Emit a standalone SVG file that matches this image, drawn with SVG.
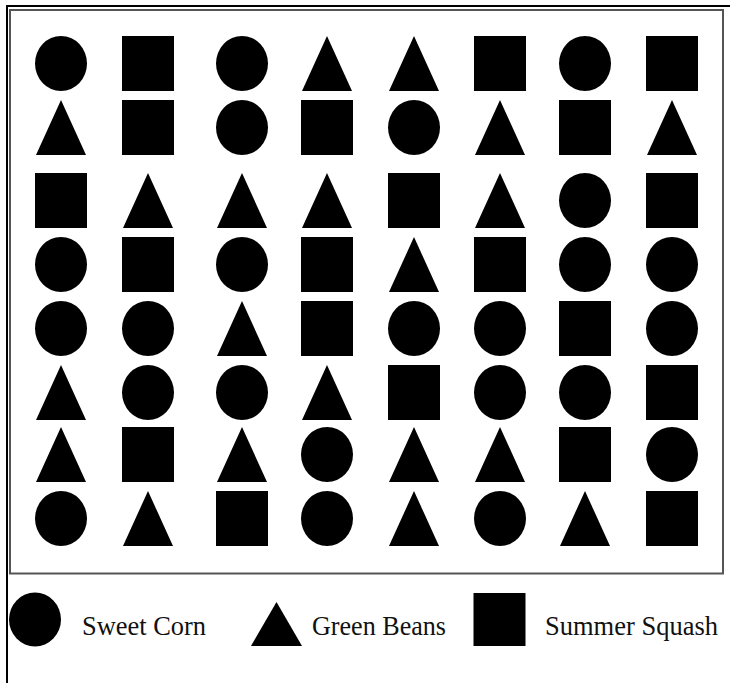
<svg xmlns="http://www.w3.org/2000/svg" xmlns:xlink="http://www.w3.org/1999/xlink" width="730" height="683" viewBox="0 0 730 683">
<style>
.sh{fill:#000}
.lbl{font-family:"Liberation Serif","Times New Roman",serif;font-size:27px;fill:#111}
</style>
<defs>
<rect id="S" class="sh" width="52" height="55"/>
<ellipse id="C" class="sh" cx="26" cy="27.5" rx="26" ry="27.5"/>
<polygon id="T" class="sh" points="26,0 51,55 1,55"/>
</defs>
<rect width="730" height="683" fill="#fff"/>
<path d="M7,683 V6 H730" fill="none" stroke="#000" stroke-width="2"/>
<rect x="10" y="10" width="713" height="563.5" fill="none" stroke="#555" stroke-width="2"/>
<g id="grid">
<g id="r1c1"><use xlink:href="#C" x="35" y="36"/></g>
<g id="r1c2"><use xlink:href="#S" x="122" y="36"/></g>
<g id="r1c3"><use xlink:href="#C" x="216" y="36"/></g>
<g id="r1c4"><use xlink:href="#T" x="301" y="36"/></g>
<g id="r1c5"><use xlink:href="#T" x="388" y="36"/></g>
<g id="r1c6"><use xlink:href="#S" x="474" y="36"/></g>
<g id="r1c7"><use xlink:href="#C" x="559" y="36"/></g>
<g id="r1c8"><use xlink:href="#S" x="646" y="36"/></g>
<g id="r2c1"><use xlink:href="#T" x="35" y="100"/></g>
<g id="r2c2"><use xlink:href="#S" x="122" y="100"/></g>
<g id="r2c3"><use xlink:href="#C" x="216" y="100"/></g>
<g id="r2c4"><use xlink:href="#S" x="301" y="100"/></g>
<g id="r2c5"><use xlink:href="#C" x="388" y="100"/></g>
<g id="r2c6"><use xlink:href="#T" x="474" y="100"/></g>
<g id="r2c7"><use xlink:href="#S" x="559" y="100"/></g>
<g id="r2c8"><use xlink:href="#T" x="646" y="100"/></g>
<g id="r3c1"><use xlink:href="#S" x="35" y="173"/></g>
<g id="r3c2"><use xlink:href="#T" x="122" y="173"/></g>
<g id="r3c3"><use xlink:href="#T" x="216" y="173"/></g>
<g id="r3c4"><use xlink:href="#T" x="301" y="173"/></g>
<g id="r3c5"><use xlink:href="#S" x="388" y="173"/></g>
<g id="r3c6"><use xlink:href="#T" x="474" y="173"/></g>
<g id="r3c7"><use xlink:href="#C" x="559" y="173"/></g>
<g id="r3c8"><use xlink:href="#S" x="646" y="173"/></g>
<g id="r4c1"><use xlink:href="#C" x="35" y="237"/></g>
<g id="r4c2"><use xlink:href="#S" x="122" y="237"/></g>
<g id="r4c3"><use xlink:href="#C" x="216" y="237"/></g>
<g id="r4c4"><use xlink:href="#S" x="301" y="237"/></g>
<g id="r4c5"><use xlink:href="#T" x="388" y="237"/></g>
<g id="r4c6"><use xlink:href="#S" x="474" y="237"/></g>
<g id="r4c7"><use xlink:href="#C" x="559" y="237"/></g>
<g id="r4c8"><use xlink:href="#C" x="646" y="237"/></g>
<g id="r5c1"><use xlink:href="#C" x="35" y="301"/></g>
<g id="r5c2"><use xlink:href="#C" x="122" y="301"/></g>
<g id="r5c3"><use xlink:href="#T" x="216" y="301"/></g>
<g id="r5c4"><use xlink:href="#S" x="301" y="301"/></g>
<g id="r5c5"><use xlink:href="#C" x="388" y="301"/></g>
<g id="r5c6"><use xlink:href="#C" x="474" y="301"/></g>
<g id="r5c7"><use xlink:href="#S" x="559" y="301"/></g>
<g id="r5c8"><use xlink:href="#C" x="646" y="301"/></g>
<g id="r6c1"><use xlink:href="#T" x="35" y="365"/></g>
<g id="r6c2"><use xlink:href="#C" x="122" y="365"/></g>
<g id="r6c3"><use xlink:href="#C" x="216" y="365"/></g>
<g id="r6c4"><use xlink:href="#T" x="301" y="365"/></g>
<g id="r6c5"><use xlink:href="#S" x="388" y="365"/></g>
<g id="r6c6"><use xlink:href="#C" x="474" y="365"/></g>
<g id="r6c7"><use xlink:href="#C" x="559" y="365"/></g>
<g id="r6c8"><use xlink:href="#S" x="646" y="365"/></g>
<g id="r7c1"><use xlink:href="#T" x="35" y="427"/></g>
<g id="r7c2"><use xlink:href="#S" x="122" y="427"/></g>
<g id="r7c3"><use xlink:href="#T" x="216" y="427"/></g>
<g id="r7c4"><use xlink:href="#C" x="301" y="427"/></g>
<g id="r7c5"><use xlink:href="#T" x="388" y="427"/></g>
<g id="r7c6"><use xlink:href="#T" x="474" y="427"/></g>
<g id="r7c7"><use xlink:href="#S" x="559" y="427"/></g>
<g id="r7c8"><use xlink:href="#C" x="646" y="427"/></g>
<g id="r8c1"><use xlink:href="#C" x="35" y="491"/></g>
<g id="r8c2"><use xlink:href="#T" x="122" y="491"/></g>
<g id="r8c3"><use xlink:href="#S" x="216" y="491"/></g>
<g id="r8c4"><use xlink:href="#C" x="301" y="491"/></g>
<g id="r8c5"><use xlink:href="#T" x="388" y="491"/></g>
<g id="r8c6"><use xlink:href="#C" x="474" y="491"/></g>
<g id="r8c7"><use xlink:href="#T" x="559" y="491"/></g>
<g id="r8c8"><use xlink:href="#S" x="646" y="491"/></g>
</g>
<g id="connectors"/>
<g id="legend">
<g id="leg-corn">
<ellipse class="sh" cx="35" cy="619.5" rx="26" ry="27"/>
<text class="lbl" x="82" y="635" textLength="124" lengthAdjust="spacingAndGlyphs">Sweet Corn</text>
</g>
<g id="leg-beans">
<polygon class="sh" points="276.5,602 302,646 251,646"/>
<text class="lbl" x="312" y="635" textLength="134" lengthAdjust="spacingAndGlyphs">Green Beans</text>
</g>
<g id="leg-squash">
<rect class="sh" x="473.5" y="593" width="52" height="53"/>
<text class="lbl" x="545" y="635" textLength="173" lengthAdjust="spacingAndGlyphs">Summer Squash</text>
</g>
</g>
</svg>
